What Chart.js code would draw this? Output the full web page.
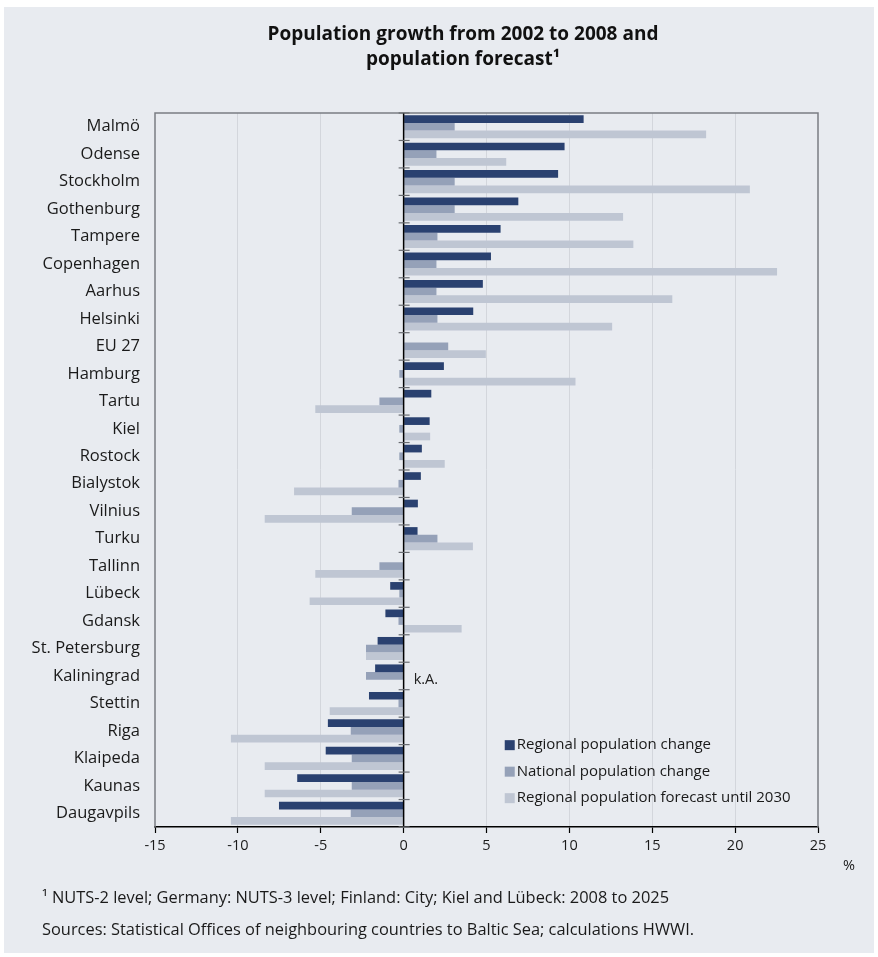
<!DOCTYPE html>
<html>
<head>
<meta charset="utf-8">
<script src="https://cdn.jsdelivr.net/npm/chart.js@4"></script>
<style>
  html, body { margin: 0; padding: 0; background: #ffffff; }
  #wrap { position: relative; width: 878px; height: 957px; }
  #panel { position: absolute; left: 4px; top: 7px; width: 870px; height: 946px; background: #e8ebf0; }
  canvas { position: absolute; left: 0; top: 0; }
  .title { position: absolute; left: 0; width: 926px; text-align: center; font-family: "Open Sans", sans-serif; font-weight: 700; font-size: 19px; color: #111; }
  .note { position: absolute; left: 42px; font-family: "Open Sans", sans-serif; font-size: 16.4px; color: #1a1a1a; white-space: nowrap; }
  .pct { position: absolute; left: 843px; top: 855px; font-family: "Open Sans", sans-serif; font-size: 14.5px; color: #1a1a1a; }
</style>
</head>
<body>
<div id="wrap">
  <div id="panel"></div>
  <canvas id="c" width="878" height="957"></canvas>
  <div class="title" style="top:20px;">Population growth from 2002 to 2008 and</div>
  <div class="title" style="top:45px;">population forecast¹</div>
  <div class="pct">%</div>
  <div class="note" style="top:885px;">¹ NUTS-2 level; Germany: NUTS-3 level; Finland: City; Kiel and Lübeck: 2008 to 2025</div>
  <div class="note" style="top:917px;">Sources: Statistical Offices of neighbouring countries to Baltic Sea; calculations HWWI.</div>
</div>
<script>
const categories = ["Malmö","Odense","Stockholm","Gothenburg","Tampere","Copenhagen","Aarhus","Helsinki","EU 27","Hamburg","Tartu","Kiel","Rostock","Bialystok","Vilnius","Turku","Tallinn","Lübeck","Gdansk","St. Petersburg","Kaliningrad","Stettin","Riga","Klaipeda","Kaunas","Daugavpils"];
const regionalChange = [10.86, 9.71, 9.32, 6.92, 5.85, 5.27, 4.78, 4.20, null, 2.43, 1.67, 1.57, 1.10, 1.04, 0.86, 0.84, null, -0.81, -1.10, -1.57, -1.72, -2.09, -4.57, -4.70, -6.42, -7.52];
const nationalChange = [3.08, 1.98, 3.08, 3.08, 2.04, 1.98, 1.98, 2.04, 2.69, -0.26, -1.46, -0.26, -0.26, -0.31, -3.13, 2.04, -1.46, -0.26, -0.31, -2.27, -2.27, -0.31, -3.19, -3.13, -3.13, -3.19];
const regionalForecast = [18.25, 6.19, 20.89, 13.24, 13.86, 22.53, 16.21, 12.58, 4.96, 10.37, -5.33, 1.60, 2.48, -6.61, -8.38, 4.18, -5.33, -5.67, 3.50, -2.27, null, -4.46, -10.42, -8.38, -8.38, -10.42];
const seriesNames = ["Regional population change", "National population change", "Regional population forecast until 2030"];
const xTicks = [-15, -10, -5, 0, 5, 10, 15, 20, 25];
const missingLabel = "k.A.";
const missingIndex = categories.indexOf("Kaliningrad");

const colors = ["#2a4170", "#95a1b8", "#bfc6d3"];
const FONT = '"Open Sans", sans-serif';

const overlay = {
  id: 'overlay',
  afterDatasetsDraw(chart) {
    const ctx = chart.ctx;
    const a = chart.chartArea;
    const xs = chart.scales.x, ys = chart.scales.y;
    ctx.save();
    ctx.strokeStyle = '#7a7d82';
    ctx.lineWidth = 1.5;
    ctx.beginPath();
    ctx.moveTo(a.left, a.bottom); ctx.lineTo(a.left, a.top); ctx.lineTo(a.right, a.top); ctx.lineTo(a.right, a.bottom);
    ctx.stroke();
    const x0 = xs.getPixelForValue(0);
    ctx.strokeStyle = '#000';
    ctx.lineWidth = 1.5;
    ctx.beginPath(); ctx.moveTo(x0, a.top); ctx.lineTo(x0, a.bottom); ctx.stroke();
    const n = categories.length;
    const step = (a.bottom - a.top) / n;
    ctx.strokeStyle = '#6a6d72';
    ctx.lineWidth = 1.2;
    for (let i = 0; i <= n; i++) {
      const y = ys.getPixelForValue(Math.min(i, n - 1)) + (i === n ? step / 2 : -step / 2);
      ctx.beginPath(); ctx.moveTo(x0 - 5, y); ctx.lineTo(x0 + 6, y); ctx.stroke();
    }
    ctx.fillStyle = '#222';
    ctx.font = '14.5px ' + FONT;
    ctx.textBaseline = 'middle';
    ctx.textAlign = 'left';
    ctx.fillText(missingLabel, x0 + 10, ys.getPixelForValue(missingIndex) + 4);
    const lx = xs.getPixelForValue(6.1);
    const ly = ys.getPixelForValue(22.52);
    const gap = 26.5;
    ctx.font = '15px ' + FONT;
    chart.data.datasets.forEach((ds, i) => {
      const y = ly + i * gap;
      ctx.fillStyle = ds.backgroundColor;
      ctx.fillRect(lx, y - 5, 10, 10);
      ctx.fillStyle = '#1a1a1a';
      ctx.fillText(ds.label, lx + 12, y);
    });
    ctx.restore();
  }
};

new Chart(document.getElementById('c'), {
  type: 'bar',
  data: {
    labels: categories,
    datasets: [
      { label: seriesNames[0], data: regionalChange, backgroundColor: colors[0] },
      { label: seriesNames[1], data: nationalChange, backgroundColor: colors[1] },
      { label: seriesNames[2], data: regionalForecast, backgroundColor: colors[2] }
    ]
  },
  options: {
    indexAxis: 'y',
    responsive: false,
    animation: false,
    devicePixelRatio: 1,
    categoryPercentage: 0.84,
    barPercentage: 1.0,
    layout: { padding: { left: 0, right: 60, top: 113, bottom: 90 } },
    plugins: { legend: { display: false }, tooltip: { enabled: false }, title: { display: false } },
    scales: {
      x: {
        min: -15, max: 25,
        afterBuildTicks(scale) { scale.ticks = xTicks.map(v => ({ value: v })); },
        afterFit(scale) { scale.height = 40; },
        grid: {
          color: (c) => (c.tick && (c.tick.value === 0 || c.tick.value === -15 || c.tick.value === 25)) ? 'rgba(0,0,0,0)' : '#d3d6dc',
          lineWidth: 1,
          drawTicks: true,
          tickLength: 6,
          tickColor: '#000',
          tickWidth: 1.2
        },
        border: { display: true, color: '#000', width: 1.5 },
        ticks: { color: '#1a1a1a', font: { family: FONT, size: 14.5 }, padding: 4 }
      },
      y: {
        afterFit(scale) { scale.width = 155; },
        grid: { display: false, drawTicks: false },
        border: { display: false },
        ticks: { color: '#1a1a1a', font: { family: FONT, size: 16.5 }, padding: 15, autoSkip: false }
      }
    }
  },
  plugins: [overlay]
});
</script>
</body>
</html>
